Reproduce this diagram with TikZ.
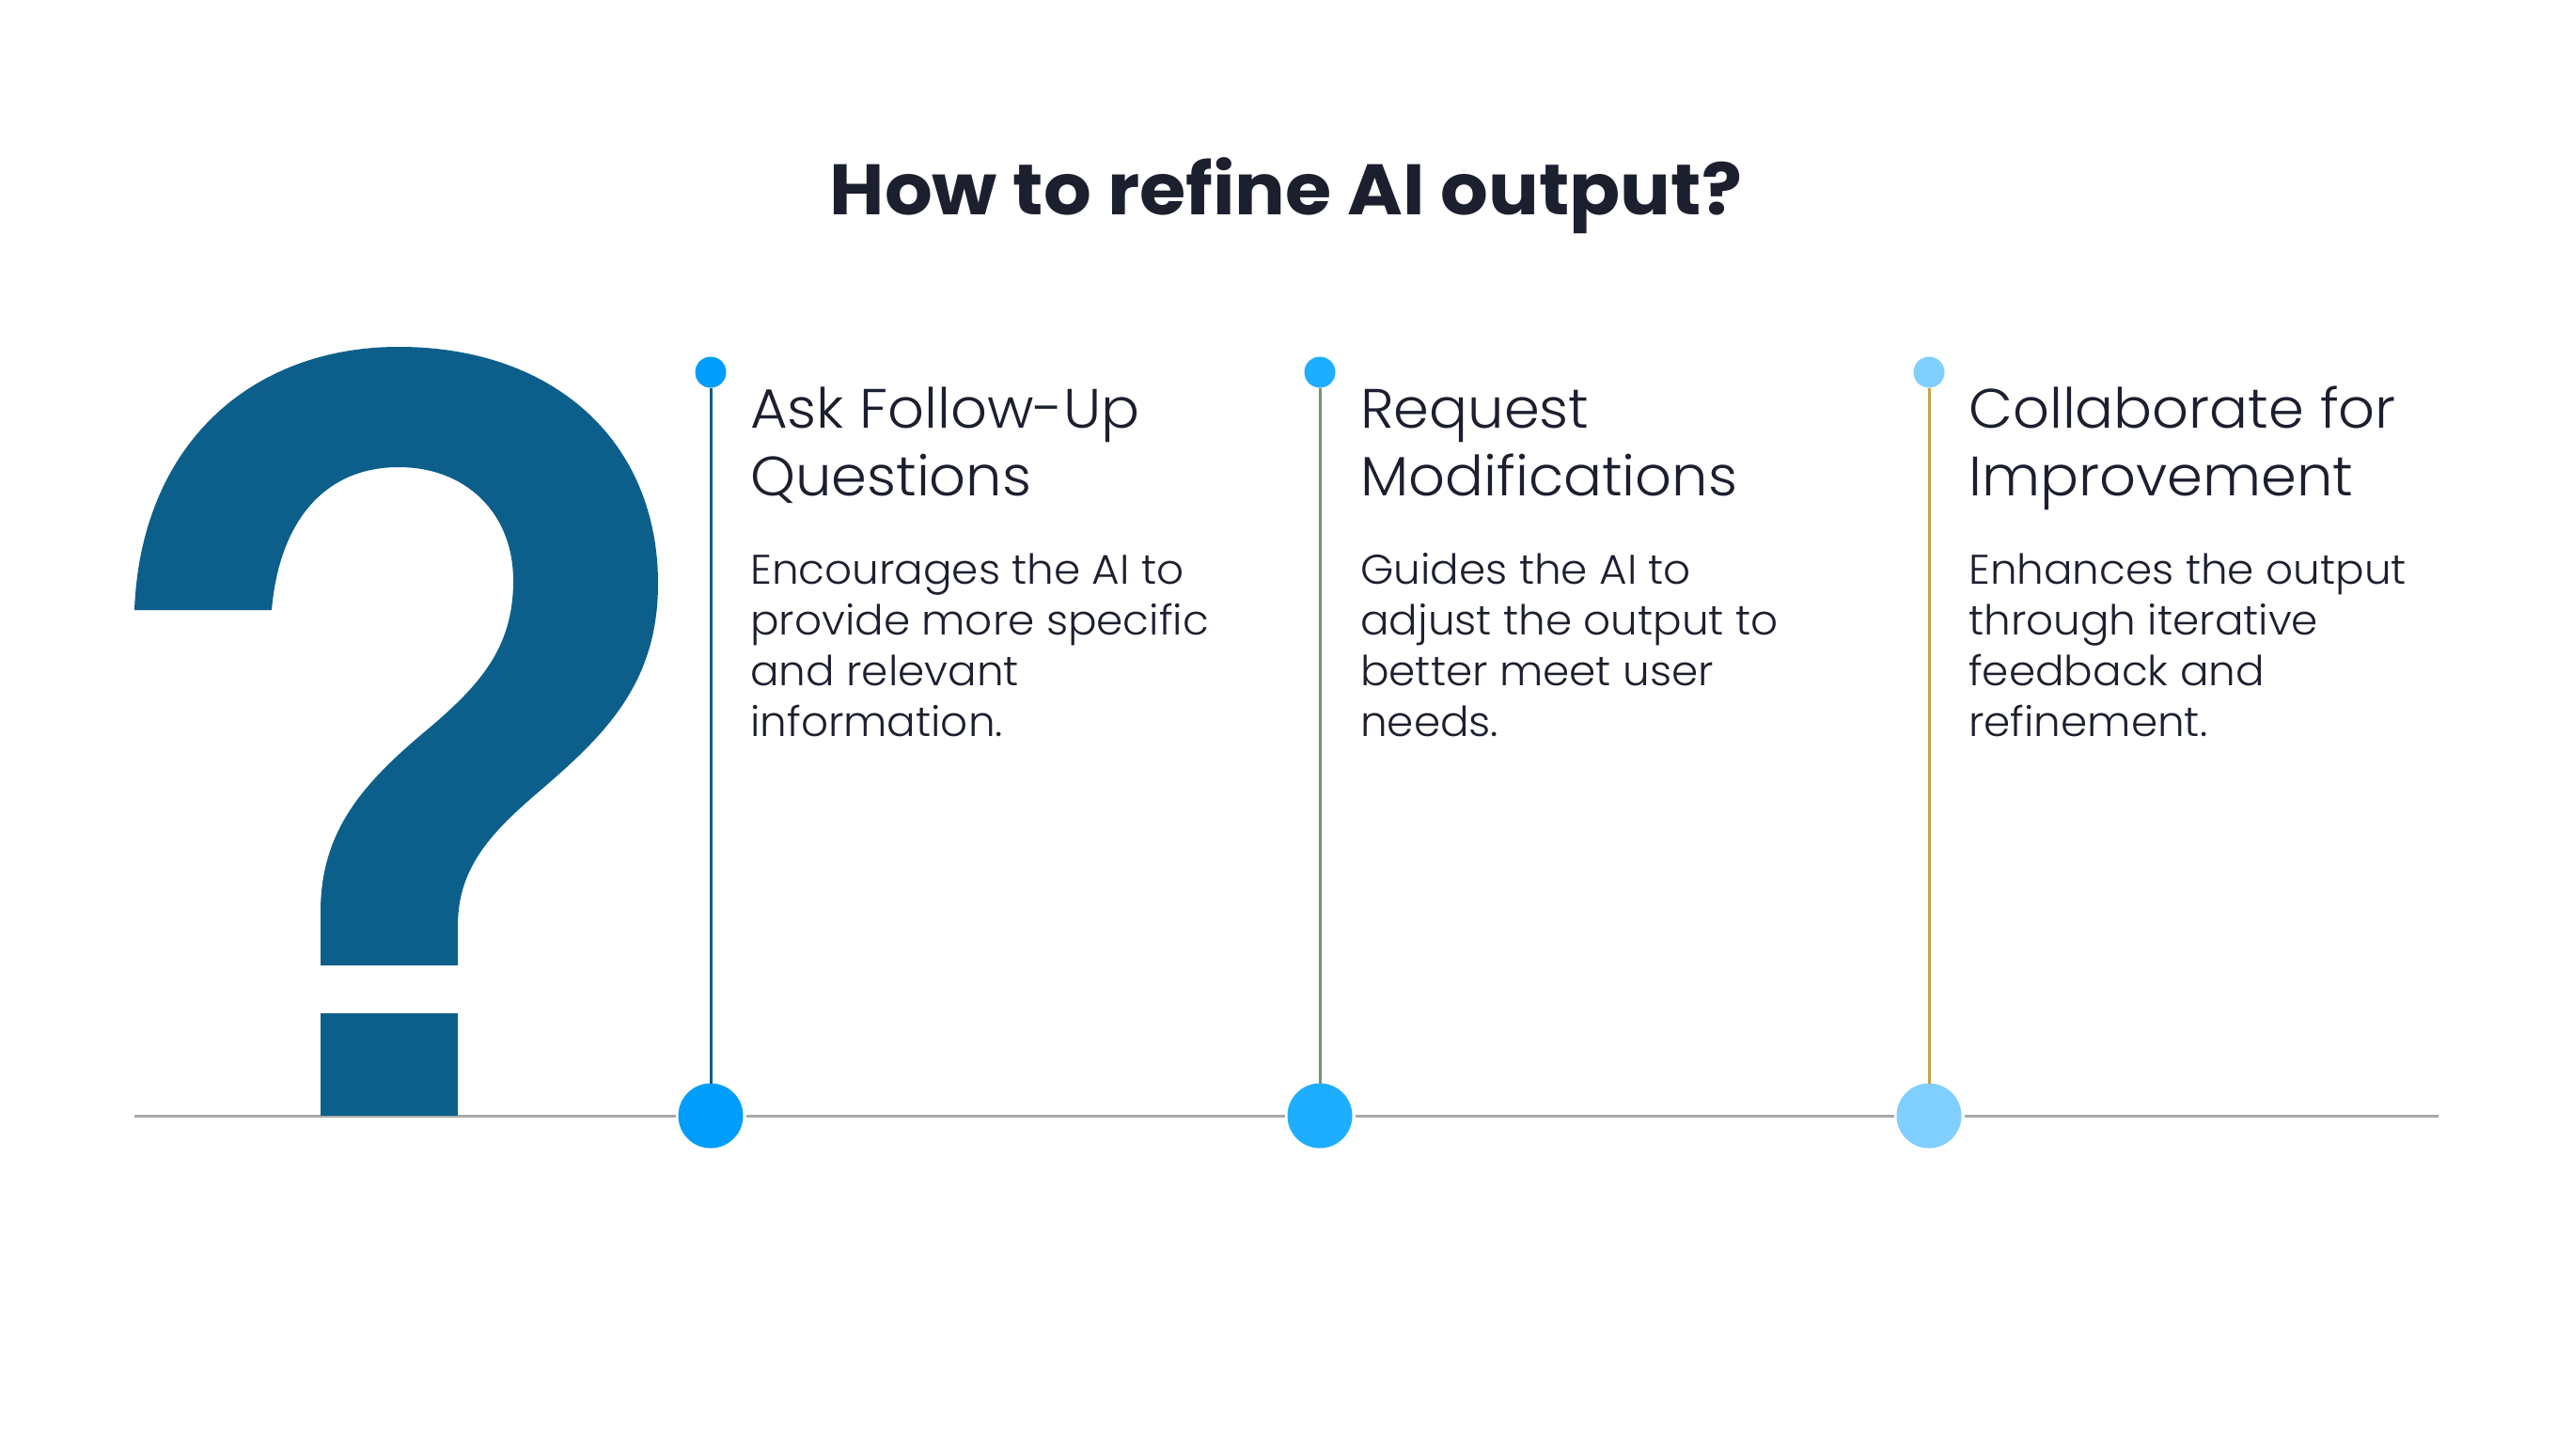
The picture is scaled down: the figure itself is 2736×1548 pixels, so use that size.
\documentclass[tikz,border=0pt]{standalone}
\usepackage{fontspec}
\setmainfont{Poppins}
\newfontfamily\titlefont{Poppins Bold}[FakeStretch=1.05]
\newfontfamily\headfont{Poppins Light}[FakeStretch=1.03]
\newfontfamily\bodyfont{Poppins Light}[FakeStretch=1.03]
\definecolor{ink}{HTML}{1C1F2E}
\definecolor{qblue}{HTML}{0D5F8B}
\definecolor{baseg}{HTML}{A8A8A8}
\definecolor{dotA}{HTML}{009EFA}
\definecolor{dotB}{HTML}{1EAEFF}
\definecolor{dotC}{HTML}{80CFFF}
\definecolor{stemA}{HTML}{0D5F8B}
\definecolor{stemB}{HTML}{6F9A63}
\definecolor{stemC}{HTML}{C9A23F}
\tikzset{
  bigdot/.style={circle,inner sep=0pt,minimum size=69pt,outer sep=3pt},
  smalldot/.style={circle,inner sep=0pt,minimum size=33pt},
  headtext/.style={anchor=base west,inner sep=0pt,align=left,text=ink,font=\headfont\fontsize{59}{72}\selectfont},
  bodytext/.style={anchor=base west,inner sep=0pt,align=left,text=ink,font=\bodyfont\fontsize{44}{54}\selectfont},
  stemline/.style={line width=3pt,shorten >=-3.5pt},
  baseline/.style={draw=baseg,line width=3pt}
}
\begin{document}
\begin{tikzpicture}[x=1pt,y=-1pt]
\useasboundingbox (0,0) rectangle (2736,1548);
\fill[white] (0,0) rectangle (2736,1548);
\coordinate (bl) at (143,1187);
\coordinate (br) at (2594,1187);
\node[bigdot,fill=dotA] (b1) at (756,1187) {};
\node[bigdot,fill=dotB] (b2) at (1404,1187) {};
\node[bigdot,fill=dotC] (b3) at (2052,1187) {};
\node[smalldot,fill=dotA] (s1) at (756,396) {};
\node[smalldot,fill=dotB] (s2) at (1404,396) {};
\node[smalldot,fill=dotC] (s3) at (2052,396) {};
\draw[baseline] (bl) -- (b1);
\draw[baseline] (b1) -- (b2);
\draw[baseline] (b2) -- (b3);
\draw[baseline] (b3) -- (br);
\draw[stemline,stemA] (s1) -- (b1.north);
\draw[stemline,stemB] (s2) -- (b2.north);
\draw[stemline,stemC] (s3) -- (b3.north);
% question mark
\fill[qblue] (143,649)
  .. controls (150,470) and (270,369) .. (424,369)
  .. controls (590,369) and (700,470) .. (700,621)
  .. controls (700,730) and (640,785) .. (570,845)
  .. controls (520,888) and (487,925) .. (487,985)
  -- (487,1027) -- (341,1027) -- (341,970)
  .. controls (341,885) and (385,835) .. (450,780)
  .. controls (510,730) and (546,690) .. (546,618)
  .. controls (546,545) and (495,497) .. (424,497)
  .. controls (345,497) and (297,555) .. (289,649)
  -- cycle;
\fill[qblue] (341,1078) rectangle (487,1187);
\node[anchor=base,inner sep=0pt,text=ink,font=\titlefont\fontsize{76}{90}\selectfont] (title) at (1368,228) {How to refine AI output?};
\node[headtext] (h1) at (798,527) {Ask Follow-Up\\Questions};
\node[headtext] (h2) at (1447,527) {Request\\Modifications};
\node[headtext] (h3) at (2094,527) {Collaborate for\\Improvement};
\node[bodytext] (t1) at (798,783) {Encourages the AI to\\provide more specific\\and relevant\\information.};
\node[bodytext] (t2) at (1447,783) {Guides the AI to\\adjust the output to\\better meet user\\needs.};
\node[bodytext] (t3) at (2094,783) {Enhances the output\\through iterative\\feedback and\\refinement.};
\end{tikzpicture}
\end{document}
